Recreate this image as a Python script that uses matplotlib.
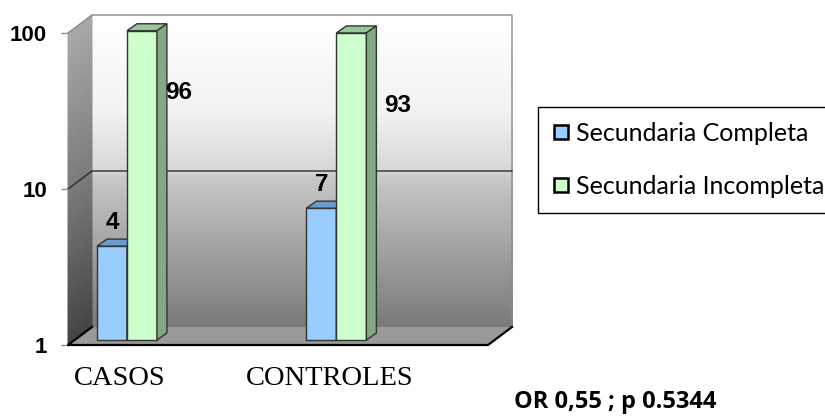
import numpy as np
import matplotlib
matplotlib.use("Agg")
import matplotlib.pyplot as plt
from matplotlib.patches import Polygon
from matplotlib.collections import PolyCollection
from matplotlib.lines import Line2D
from matplotlib.transforms import Affine2D, IdentityTransform
from matplotlib.ticker import NullLocator

# datos
categorias = ["CASOS", "CONTROLES"]
series = ["Secundaria Completa", "Secundaria Incompleta"]
completa = [4, 7]
incompleta = [96, 93]
nota = "OR 0,55 ; p 0.5344"

# estilo
col_frente = ["#99ccff", "#ccffcc"]
col_tapa = ["#6b9bcb", "#99c799"]
col_lado = ["#5a86b5", "#83a883"]
desp_etiquetas = [[(7, 29), (7, 29)], [(44, -57), (53, -68)]]

W, H, DPI = 825, 416, 100
fig = plt.figure(figsize=(W / DPI, H / DPI), dpi=DPI)
ax = fig.add_axes([68 / W, 71 / H, 420 / W, 312 / H])
ax.set_yscale("log")
ax.set_xlim(-0.248, 1.757)
ax.set_ylim(1, 100)
ax.patch.set_visible(False)
for s in ax.spines.values():
    s.set_visible(False)

fondo = (24, 18)        # profundidad de paredes (px)
plano = (7, 5)          # plano frontal de las barras
prof = (10, 7)          # profundidad de cada barra
x0, x1 = ax.get_xlim()
ident = IdentityTransform()


def px(x, y, d=(0, 0)):
    p = ax.transData.transform((x, y))
    return (p[0] + d[0], p[1] + d[1])


def poly(pts, **kw):
    p = Polygon(pts, closed=True, transform=ident, clip_on=False, **kw)
    ax.add_patch(p)
    return p


def linea(pts, **kw):
    xs, ys = zip(*pts)
    l = Line2D(xs, ys, transform=ident, clip_on=False, **kw)
    ax.add_line(l)


# pared del fondo y pared izquierda con degradado
n = 160
niveles = 10 ** np.linspace(0, 2, n + 1)
t = 1 - np.linspace(0, 2, n + 1) / 2
gris_fondo = np.interp(t, [0, 0.3, 0.5, 0.52, 1.0], [1.0, 0.95, 0.84, 0.78, 0.47])
gris_izq = np.interp(t, [0, 0.5, 1.0], [0.66, 0.48, 0.26])
bandas_f, bandas_i, cf, ci = [], [], [], []
for k in range(n):
    a, b = niveles[k], niveles[k + 1]
    bandas_f.append([px(x0, a, fondo), px(x1, a, fondo), px(x1, b, fondo), px(x0, b, fondo)])
    bandas_i.append([px(x0, a), px(x0, a, fondo), px(x0, b, fondo), px(x0, b)])
    g = (gris_fondo[k] + gris_fondo[k + 1]) / 2
    cf.append((g, g, g))
    g = (gris_izq[k] + gris_izq[k + 1]) / 2
    ci.append((g, g, g))
for bandas, cols in ((bandas_f, cf), (bandas_i, ci)):
    pc = PolyCollection(bandas, facecolors=cols, edgecolors=cols, linewidths=0.6,
                        transform=ident, clip_on=False, zorder=0)
    ax.add_collection(pc, autolim=False)

# piso
poly([px(x0, 1), px(x1, 1), px(x1, 1, fondo), px(x0, 1, fondo)],
     facecolor="#999999", edgecolor="none", zorder=1)

# bordes de las paredes y línea de cuadrícula en 10
linea([px(x0, 100), px(x0, 100, fondo), px(x1, 100, fondo), px(x1, 1, fondo)],
      color="#8a8a8a", lw=1, zorder=1.5)
linea([px(x0, 10), px(x0, 10, fondo), px(x1, 10, fondo)], color="#2a2a2a", lw=1, zorder=1.5)
linea([px(x0, 1, fondo), px(x0, 1), px(x1, 1), px(x1, 1, fondo)], color="black", lw=1.6, zorder=1.6)

# barras 3D
w = 0.143
tr_barras = ax.transData + Affine2D().translate(*plano)
d2 = (plano[0] + prof[0], plano[1] + prof[1])
for j, valores in enumerate([completa, incompleta]):
    for i, v in enumerate(valores):
        xl = i + (j - 1) * w
        barra = ax.bar(xl, v - 1, width=w, bottom=1, align="edge",
                       facecolor=col_frente[j], edgecolor="#333333", lw=1,
                       zorder=3 + j)
        for p in barra:
            p.set_transform(tr_barras)
            p.set_clip_on(False)
        poly([px(xl, v, plano), px(xl + w, v, plano), px(xl + w, v, d2), px(xl, v, d2)],
             facecolor=col_tapa[j], edgecolor="#333333", lw=1, zorder=3 + j)
        poly([px(xl + w, 1, plano), px(xl + w, v, plano), px(xl + w, v, d2), px(xl + w, 1, d2)],
             facecolor=col_lado[j], edgecolor="#333333", lw=1, zorder=3 + j)
        dx, dy = desp_etiquetas[j][i]
        ax.annotate(str(v), xy=(xl + w / 2, v), xytext=(dx, dy), textcoords="offset pixels",
                    ha="center", va="center", fontsize=17.5, fontweight="bold",
                    family="Liberation Sans", zorder=6, annotation_clip=False)

ax.set_xlim(x0, x1)
ax.set_ylim(1, 100)

# ejes
ax.set_yticks([1, 10, 100], ["1", "10", "100"], fontweight="bold",
              family="Liberation Sans", fontsize=16)
ax.yaxis.set_minor_locator(NullLocator())
ax.tick_params(axis="y", length=5, color="#909090", width=1, pad=10)
ax.set_xticks([0, 1], categorias, family="Liberation Serif", fontsize=20.5)
ax.tick_params(axis="x", length=0, pad=15)

# leyenda con cuadritos
manijas = [Line2D([], [], linestyle="none", marker="s", markersize=10.5,
                  markerfacecolor=c, markeredgecolor="black", markeredgewidth=1.8)
           for c in col_frente]
leg = fig.legend(manijas, series, loc="upper left", bbox_to_anchor=(538 / W, 1 - 107 / H),
                 prop={"family": "Lato", "size": 18}, frameon=True, fancybox=False,
                 edgecolor="black", framealpha=1, borderpad=0.6, labelspacing=1.2,
                 handlelength=0.6, handletextpad=0.3, borderaxespad=0)
leg.get_frame().set_linewidth(1)

fig.text(615 / W, 1 - 402 / H, nota, ha="center", va="center", fontsize=17,
         fontweight="bold", family="Open Sans")

fig.savefig("out.png", dpi=DPI)
